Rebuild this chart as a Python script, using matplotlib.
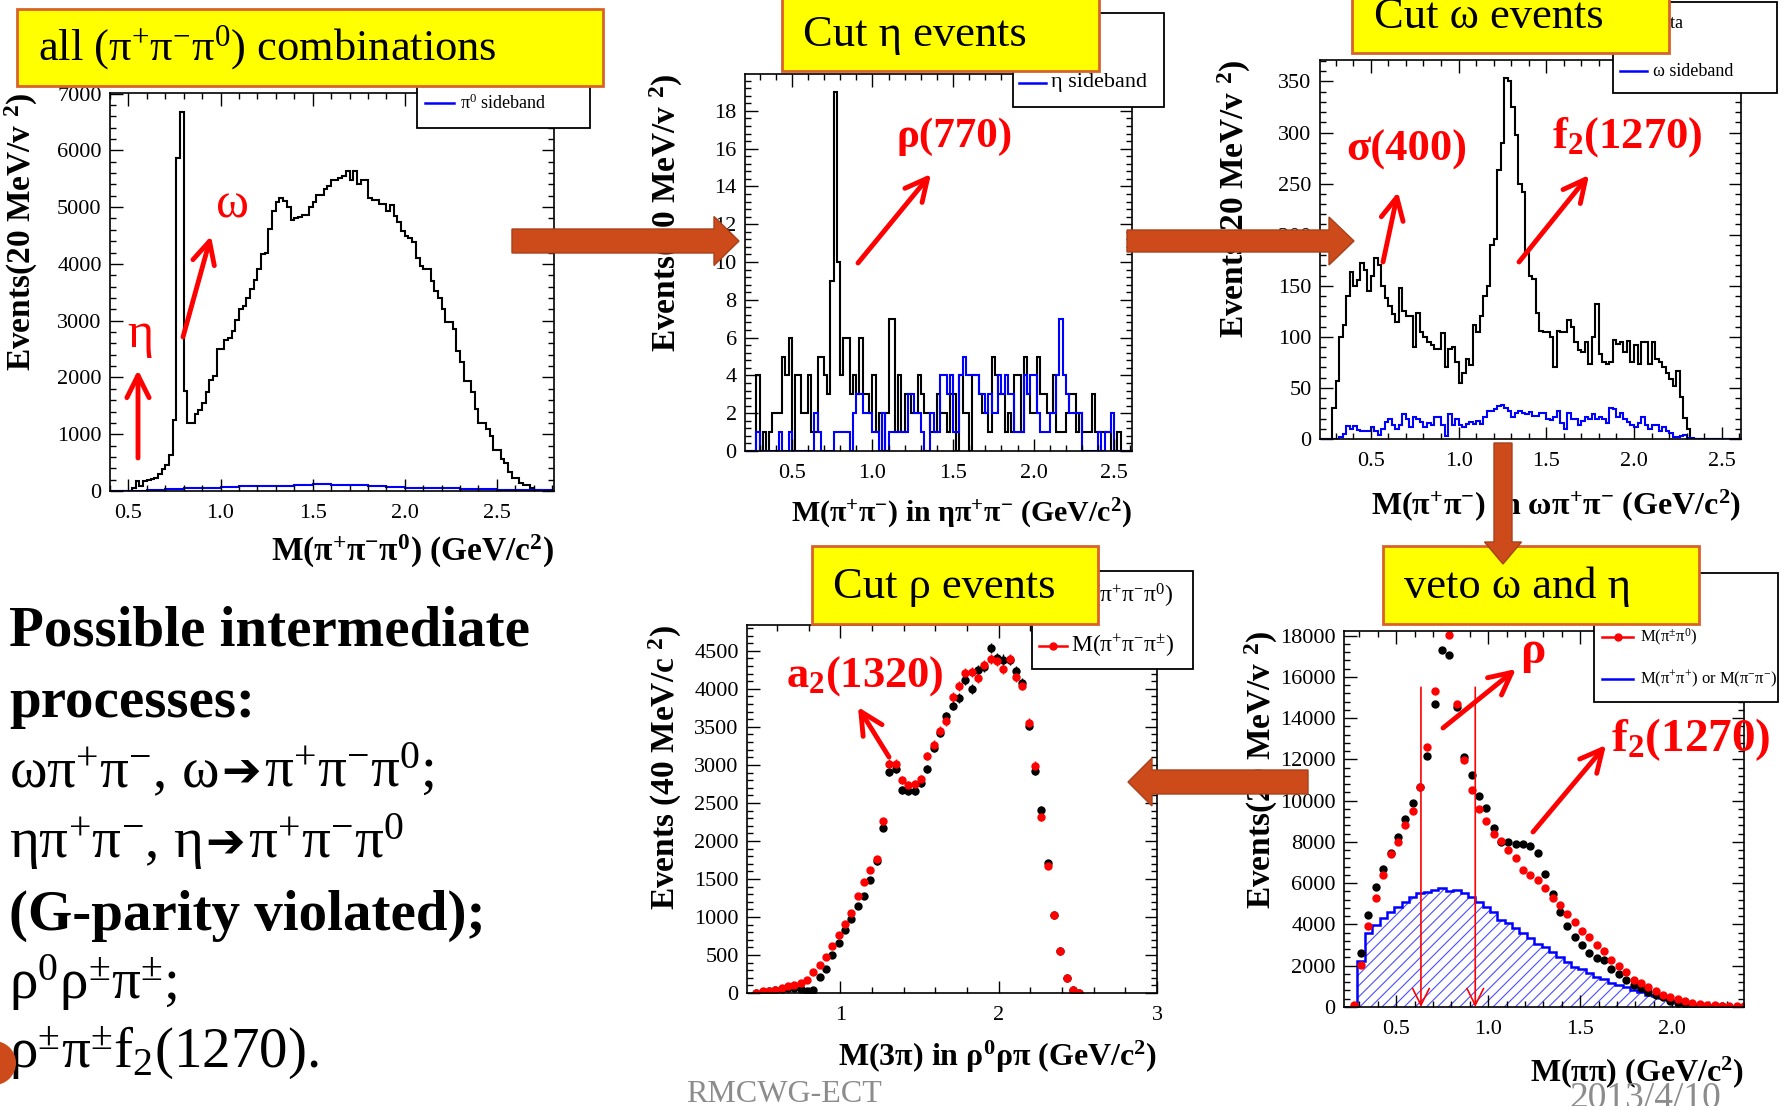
import numpy as np
import matplotlib
matplotlib.use("Agg")
import matplotlib.pyplot as plt
from matplotlib.patches import Rectangle, FancyArrow, Circle
from matplotlib.ticker import MultipleLocator, FormatStrFormatter

plt.rcParams['font.family'] = ['Liberation Serif', 'DejaVu Serif']
plt.rcParams['mathtext.fontset'] = 'custom'
plt.rcParams['mathtext.rm'] = 'Liberation Serif'
plt.rcParams['mathtext.default'] = 'regular'
plt.rcParams['hatch.linewidth'] = 0.8

W, H = 1784, 1106

# ---- M(pi+ pi- pi0), 20 MeV bins starting at 0.40 GeV
m3pi_start, m3pi_width = 0.40, 0.02
m3pi_all = [0, 0, 0, 0, 0,
            0, 60, 180, 90, 170, 200, 210, 230, 300, 390,
            460, 640, 1250, 5860, 6680, 1770, 1190, 1190, 1350, 1420,
            1550, 1740, 1960, 2030, 2500, 2500, 2660, 2700, 2820, 3020,
            3200, 3250, 3400, 3560, 3720, 3910, 4170, 4200, 4610, 4930,
            5090, 5160, 5100, 5000, 4770, 4800, 4820, 4870, 4870, 5000,
            5090, 5220, 5220, 5320, 5380, 5480, 5480, 5510, 5540, 5640,
            5480, 5640, 5410, 5480, 5480, 5160, 5120, 5120, 5060, 5060,
            4930, 5030, 4840, 4740, 4580, 4490, 4450, 4390, 4100, 3970,
            3910, 3910, 3690, 3530, 3400, 3210, 2980, 2980, 2860, 2470,
            2280, 1930, 1930, 1740, 1450, 1195, 1195, 1100, 970, 715,
            715, 555, 490, 330, 235, 235, 140, 110, 110, 45,
            13, 13, 0, 0, 0, 0, 0]
# pi0 sideband, 100 MeV bins starting at 0.40 GeV
pi0_side_width = 0.10
pi0_side = [0, 0, 10, 40, 60, 60, 65, 80, 88, 95, 100, 115, 105,
            100, 90, 75, 60, 60, 55, 40, 30, 18, 15, 15, 0]

# ---- M(pi+ pi-) recoiling against eta, 20 MeV bins from 0.20 GeV
mpp_start, mpp_width = 0.20, 0.02
eta_data = [0, 0, 0, 0, 4, 0, 1, 0, 1, 2,
            2, 2, 5, 4, 6, 0, 4, 4, 2, 2,
            4, 1, 1, 5, 5, 4, 3, 9, 19, 10,
            4, 6, 6, 3, 4, 3, 6, 3, 3, 2,
            4, 1, 2, 0, 2, 7, 7, 1, 4, 1,
            3, 3, 2, 2, 4, 3, 2, 2, 1, 1,
            3, 2, 2, 1, 3, 3, 0, 4, 2, 2,
            0, 4, 4, 3, 2, 2, 1, 5, 4, 3,
            3, 1, 2, 1, 4, 4, 1, 5, 3, 2,
            2, 5, 3, 3, 2, 2, 4, 1, 1, 1,
            2, 3, 3, 1, 2, 1, 1, 1, 3, 1,
            1, 1, 1, 1, 0, 0, 1, 0, 0, 0]
eta_side = [0, 0, 0, 0, 1, 0, 0, 0, 0, 0,
            0, 1, 0, 0, 1, 0, 0, 0, 0, 0,
            0, 0, 2, 1, 0, 0, 0, 0, 1, 1,
            1, 1, 1, 0, 2, 3, 3, 2, 2, 2,
            1, 1, 0, 2, 0, 1, 1, 1, 1, 1,
            1, 3, 3, 2, 2, 1, 0, 0, 2, 1,
            1, 4, 4, 3, 4, 1, 1, 4, 5, 4,
            4, 4, 4, 3, 3, 2, 3, 2, 2, 4,
            3, 4, 3, 3, 1, 1, 1, 4, 3, 4,
            4, 2, 1, 1, 1, 2, 2, 4, 7, 4,
            3, 2, 2, 2, 2, 0, 0, 0, 0, 0,
            1, 0, 1, 1, 2, 0, 0, 0, 0, 0]

# ---- M(pi+ pi-) recoiling against omega, same binning
omega_data = [0, 0, 0, 0,
              30, 57, 100, 112, 140, 163, 150, 156, 172, 165,
              145, 160, 177, 170, 150, 138, 130, 122, 115, 148,
              125, 120, 120, 90, 123, 105, 100, 95, 92, 88,
              88, 104, 70, 88, 90, 75, 55, 65, 78, 72,
              112, 105, 120, 140, 150, 190, 196, 263, 290, 353,
              350, 325, 298, 250, 242, 182, 160, 157, 123, 106,
              105, 105, 100, 70, 106, 105, 105, 116, 110, 95,
              87, 85, 95, 73, 100, 132, 83, 75, 73, 75,
              97, 93, 95, 85, 96, 75, 92, 73, 95, 95,
              73, 95, 78, 75, 70, 65, 59, 52, 67, 41,
              21, 10,
              0, 0, 0, 0, 0, 0, 0, 0, 0, 0, 0, 0, 0, 0]
omega_side = [0, 0, 0, 0,
              0, 0, 2, 5, 13, 10, 13, 9, 8, 8,
              8, 12, 8, 4, 10, 17, 20, 14, 10, 14,
              24, 20, 12, 22, 20, 17, 12, 16, 14, 22,
              22, 14, 3, 24, 14, 20, 14, 12, 15, 17,
              15, 18, 15, 22, 27, 27, 29, 32, 33, 30,
              27, 22, 25, 27, 25, 24, 26, 23, 23, 25,
              25, 20, 19, 22, 27, 16, 10, 25, 20, 20,
              14, 18, 22, 20, 24, 20, 22, 20, 16, 30,
              29, 22, 25, 20, 17, 14, 12, 16, 22, 14,
              10, 14, 14, 8, 12, 8, 6, 2, 2, 3,
              4, 1, 1,
              0, 0, 0, 0, 0, 0, 0, 0, 0, 0, 0, 0, 0]

# ---- M(3pi) in rho0 rho pi, 40 MeV bins, centres from 0.47 GeV
m3_first, m3_step = 0.47, 0.04
m3_neutral = [0, 9, 22, 35, 53, 66, 66, 53, 31, 35,
              210, 316, 504, 658, 833, 974, 1140, 1281, 1491, 1730,
              2171, 2904, 2947, 2675, 2654, 2654, 2763, 2947, 3224, 3421,
              3640, 3781, 3882, 4120, 4000, 4254, 4290, 4540, 4408, 4386,
              4380, 4233, 4079, 3518, 2917, 2412, 1711, 1031, 557, 197,
              44, 0]
m3_charged = [0, 22, 31, 44, 66, 88, 110, 132, 175, 272,
              373, 474, 614, 768, 912, 1053, 1272, 1456, 1623, 1763,
              2259, 3018, 3018, 2807, 2741, 2754, 2816, 3114, 3268, 3452,
              3575, 3895, 4035, 4211, 4219, 4145, 4320, 4395, 4364, 4263,
              4395, 4158, 4044, 3553, 2991, 2316, 1667, 1031, 557, 197,
              35, 0]

# ---- M(pi pi) after the omega/eta veto, 40 MeV bins, centres from 0.27 GeV
mpipi_first, mpipi_step = 0.27, 0.04
pipi_neutral = [0, 2625, 4438, 5820, 6683, 7461, 8238, 9136, 9878, 10656,
                12158, 14714, 17305, 17046, 14541, 12124, 11226, 10224, 9671, 8670,
                7979, 7979, 7892, 7892, 7806, 7461, 6459, 5475, 4611, 3920,
                3402, 3005, 2625, 2366, 2280, 1848, 1623, 1330, 1071, 898,
                725, 587, 466, 294, 207, 155, 121, 69, 52, 35,
                30, 20, 20, 20]
pipi_charged = [120, 2020, 3920, 5302, 6390, 7426, 7979, 8842, 9499, 10690,
                12607, 15318, 18900, 18045, 14709, 11967, 10535, 9620, 9015, 8410,
                8065, 7633, 7201, 6632, 6424, 6165, 5768, 5302, 4957, 4525,
                4145, 3661, 3402, 3005, 2711, 2280, 1969, 1675, 1330, 1157,
                984, 760, 587, 501, 380, 294, 207, 155, 121, 86,
                69, 52, 35, 35]
pipi_same_sign = [0, 0, 2210, 3590, 3980, 4300, 4630, 4870, 5110, 5350, 5510,
                  5590, 5670, 5750, 5600, 5670, 5510, 5350, 5110, 4870, 4630,
                  4220, 4060, 3820, 3580, 3340, 3050, 2900, 2650, 2400, 2200,
                  1950, 1850, 1650, 1450, 1350, 1160, 1080, 950, 840, 720,
                  600, 520, 420, 360, 270, 190, 150, 120, 110, 60,
                  30, 10, 0, 0]
rho_cuts = [0.635, 0.93]
rho_cut_top = 15500


def edges(start, width, n):
    return np.round(start + width * np.arange(n + 1), 4)


def centres(first, step, n):
    return np.round(first + step * np.arange(n), 4)


fig = plt.figure(figsize=(W / 100, H / 100), dpi=100)


def panel(left, top, right, bottom):
    ax = fig.add_axes([left / W, 1 - bottom / H, (right - left) / W, (bottom - top) / H])
    ax.tick_params(which='both', direction='in', top=True, right=True, labelsize=16, width=1)
    ax.tick_params(which='major', length=9)
    ax.tick_params(which='minor', length=4.5)
    ax.tick_params(axis='x', pad=9)
    ax.tick_params(axis='y', pad=6)
    for s in ax.spines.values():
        s.set_linewidth(1.2)
    return ax


def labels(ax, xl, yl, xfrac, yfrac, xsize=24):
    ax.set_xlabel(xl, fontsize=xsize, fontweight='bold', loc='right')
    ax.set_ylabel(yl, fontsize=24, fontweight='bold', loc='top')
    ax.xaxis.set_label_coords(1.0, yfrac)
    ax.yaxis.set_label_coords(xfrac, 1.0)


def axis_ticks(ax, xmaj, xmin, ymaj, ymin, xfmt):
    ax.xaxis.set_major_locator(MultipleLocator(xmaj))
    ax.xaxis.set_minor_locator(MultipleLocator(xmin))
    ax.yaxis.set_major_locator(MultipleLocator(ymaj))
    ax.yaxis.set_minor_locator(MultipleLocator(ymin))
    ax.xaxis.set_major_formatter(FormatStrFormatter(xfmt))
    ax.yaxis.set_major_formatter(FormatStrFormatter('%d'))


# panel 1: all combinations
ax1 = panel(110, 93, 554, 491)
ax1.stairs(m3pi_all, edges(m3pi_start, m3pi_width, len(m3pi_all)), color='k', lw=1.5)
ax1.stairs(pi0_side, edges(m3pi_start, pi0_side_width, len(pi0_side)), color='blue', lw=1.5)
ax1.set_xlim(0.40, 2.81)
ax1.set_ylim(0, 7010)
axis_ticks(ax1, 0.5, 0.1, 1000, 200, '%.1f')
labels(ax1, r'M(π$^{+}$π$^{-}$π$^{0}$) (GeV/c$^{2}$)', r'Events(20 MeV/v $^{2}$)', -0.157, -0.105)

# panel 2: eta selected
ax2 = panel(745, 74, 1132, 451)
ax2.stairs(eta_data, edges(mpp_start, mpp_width, len(eta_data)), color='k', lw=1.5)
ax2.stairs(eta_side, edges(mpp_start, mpp_width, len(eta_side)), color='blue', lw=1.5)
ax2.set_xlim(0.21, 2.61)
ax2.set_ylim(0, 19.95)
axis_ticks(ax2, 0.5, 0.1, 2, 0.4, '%.1f')
labels(ax2, r'M(π$^{+}$π$^{-}$) in ηπ$^{+}$π$^{-}$ (GeV/c$^{2}$)', r'Events(20 MeV/v $^{2}$)',
       -0.155, -0.121, xsize=21.5)

# panel 3: omega selected
ax3 = panel(1320, 60, 1741, 439)
ax3.stairs(omega_data, edges(mpp_start, mpp_width, len(omega_data)), color='k', lw=1.5)
ax3.stairs(omega_side, edges(mpp_start, mpp_width, len(omega_side)), color='blue', lw=1.5)
ax3.set_xlim(0.21, 2.61)
ax3.set_ylim(0, 371)
axis_ticks(ax3, 0.5, 0.1, 50, 10, '%.1f')
labels(ax3, r'M(π$^{+}$π$^{-}$) in ωπ$^{+}$π$^{-}$ (GeV/c$^{2}$)', r'Events(20 MeV/v $^{2}$)',
       -0.159, -0.127, xsize=23)

# panel 4: rho selected, 3pi mass
ax4 = panel(747, 625, 1157, 993)
x4 = centres(m3_first, m3_step, len(m3_neutral))
ax4.errorbar(x4, m3_neutral, yerr=np.sqrt(m3_neutral), fmt='o', color='k', ms=5,
             elinewidth=1, capsize=0)
ax4.errorbar(x4, m3_charged, yerr=np.sqrt(m3_charged), fmt='o', color='red', ms=5,
             elinewidth=1, capsize=0)
ax4.set_xlim(0.41, 3.0)
ax4.set_ylim(0, 4840)
axis_ticks(ax4, 1, 0.2, 500, 100, '%d')
labels(ax4, r'M(3π) in ρ$^{0}$ρπ (GeV/c$^{2}$)', r'Events (40 MeV/c $^{2}$)', -0.154, -0.125,
       xsize=23)

# panel 5: pi pi mass after vetoes
ax5 = panel(1344, 631, 1744, 1007)
e5 = edges(mpipi_first - 0.06, mpipi_step, len(pipi_same_sign))
ax5.stairs(pipi_same_sign, e5, fill=True, facecolor='none', edgecolor='#4d4dff', lw=0, hatch='///')
ax5.stairs(pipi_same_sign, e5, color='blue', lw=1.8)
x5 = centres(mpipi_first, mpipi_step, len(pipi_neutral))
ax5.errorbar(x5, pipi_neutral, yerr=np.sqrt(pipi_neutral), fmt='o', color='k', ms=5,
             elinewidth=1, capsize=0)
ax5.errorbar(x5, pipi_charged, yerr=np.sqrt(pipi_charged), fmt='o', color='red', ms=5,
             elinewidth=1, capsize=0)
for c in rho_cuts:
    ax5.annotate('', xy=(c, 0), xytext=(c, rho_cut_top),
                 arrowprops=dict(arrowstyle='->', color='red', lw=1.2, mutation_scale=30,
                                 shrinkA=0, shrinkB=0))
ax5.set_xlim(0.217, 2.39)
ax5.set_ylim(0, 18230)
axis_ticks(ax5, 0.5, 0.1, 2000, 400, '%.1f')
labels(ax5, r'M(ππ) (GeV/c$^{2}$)', r'Events(20 MeV/v $^{2}$)', -0.16, -0.125, xsize=23)

# ---- overlay in figure pixels for boxes, arrows and slide text
ov = fig.add_axes([0, 0, 1, 1])
ov.set_xlim(0, W)
ov.set_ylim(H, 0)
ov.axis('off')
ov.set_zorder(10)


def legend_box(x0, y0, x1, y1, entries, lx0, lx1, tx, size):
    ov.add_patch(Rectangle((x0, y0), x1 - x0, y1 - y0, facecolor='white', edgecolor='k',
                           lw=1.3, zorder=2))
    for y, color, marker, text in entries:
        ov.plot([lx0, lx1], [y, y], color=color, lw=1.8, zorder=2.1)
        if marker:
            ov.plot([(lx0 + lx1) / 2], [y], marker='o', ms=5, color=color, zorder=2.2)
        ov.text(tx, y, text, fontsize=size, va='center', zorder=2.2)


legend_box(417, 40, 590, 128, [(103, 'blue', False, r'π$^{0}$ sideband')], 425, 454, 460, 13)
legend_box(1013, 13, 1164, 107, [(83, 'blue', False, 'η sideband')], 1019, 1046, 1051, 16)
legend_box(1613, 2, 1777, 93, [(23, 'k', False, 'data'),
                               (71, 'blue', False, 'ω sideband')], 1620, 1647, 1653, 13)
legend_box(1032, 571, 1193, 669, [(596, 'k', True, r'M(π$^{+}$π$^{-}$π$^{0}$)'),
                                  (646, 'red', True, r'M(π$^{+}$π$^{-}$π$^{±}$)')], 1039, 1067, 1071, 17)
legend_box(1594, 573, 1778, 702, [(637, 'red', True, r'M(π$^{±}$π$^{0}$)'),
                                  (679, 'blue', False, r'M(π$^{+}$π$^{+}$) or M(π$^{-}$π$^{-}$)')],
           1602, 1633, 1640, 12)


def title_box(x0, y0, x1, y1, text, tx, ty):
    ov.add_patch(Rectangle((x0, y0), x1 - x0, y1 - y0, facecolor='#FFFF00', edgecolor='#D9622B',
                           lw=2, zorder=3))
    ov.text(tx, ty, text, fontsize=32, va='baseline', zorder=3.1)


title_box(17, 9, 603, 86, r'all (π$^{+}$π$^{-}$π$^{0}$) combinations', 38, 60)
title_box(782, -5, 1099, 71, 'Cut η events', 803, 46)
title_box(1352, -30, 1669, 53, 'Cut ω events', 1374, 28)
title_box(812, 546, 1098, 624, 'Cut ρ events', 833, 598)
title_box(1383, 546, 1699, 624, 'veto ω and η', 1404, 598)


def block_arrow(x, y, dx, dy, width, head_width, head_length):
    ov.add_patch(FancyArrow(x, y, dx, dy, width=width, head_width=head_width,
                            head_length=head_length, length_includes_head=True,
                            facecolor='#CD4A1A', edgecolor='#A8401A', lw=1, zorder=4))


block_arrow(512, 241, 227, 0, 24, 49, 25)
block_arrow(1127, 241, 227, 0, 22, 48, 25)
block_arrow(1503, 443, 0, 121, 18, 37, 22)
block_arrow(1308, 782, -180, 0, 24, 48, 24)


def callout(text, tx, ty, tail, tip, size, weight='bold'):
    ov.text(tx, ty, text, color='red', fontsize=size, fontweight=weight,
            ha='center', va='center', zorder=5)
    ov.annotate('', xy=tip, xytext=tail, zorder=5,
                arrowprops=dict(arrowstyle='->', color='red', lw=3.5, mutation_scale=40,
                                shrinkA=0, shrinkB=0))


callout('η', 140, 335, (138, 458), (138, 370), 36, 'normal')
callout('ω', 233, 205, (183, 337), (211, 236), 36, 'normal')
callout('ρ(770)', 955, 137, (858, 263), (931, 174), 31)
callout('σ(400)', 1407, 150, (1383, 262), (1398, 192), 32)
callout(r'f$_{2}$(1270)', 1627, 137, (1519, 262), (1589, 175), 32)
callout(r'a$_{2}$(1320)', 865, 676, (889, 757), (858, 707), 32)
callout('ρ', 1533, 652, (1443, 728), (1516, 669), 34)
callout(r'f$_{2}$(1270)', 1691, 740, (1533, 832), (1606, 745), 34)

# slide text on the left; each line is a list of runs drawn one after another
SERIF = ['Liberation Serif', 'DejaVu Serif']
ARROW = ['DejaVu Sans']
text_lines = [
    (646, [('Possible intermediate', 'bold', SERIF)]),
    (717, [('processes:', 'bold', SERIF)]),
    (787, [(r'ωπ$^{+}$π$^{-}$, ω', 'normal', SERIF), ('➔', 'bold', ARROW),
           (r'π$^{+}$π$^{-}$π$^{0}$;', 'normal', SERIF)]),
    (858, [(r'ηπ$^{+}$π$^{-}$, η', 'normal', SERIF), ('➔', 'bold', ARROW),
           (r'π$^{+}$π$^{-}$π$^{0}$', 'normal', SERIF)]),
    (930, [('(G-parity violated);', 'bold', SERIF)]),
    (999, [(r'ρ$^{0}$ρ$^{±}$π$^{±}$;', 'normal', SERIF)]),
    (1067, [(r'ρ$^{±}$π$^{±}$f$_{2}$(1270).', 'normal', SERIF)]),
]
renderer = fig.canvas.get_renderer()
for base, runs in text_lines:
    x = 9
    for chunk, weight, family in runs:
        size = 34 if family is ARROW else 41
        t = ov.text(x, base, chunk, fontsize=size, fontweight=weight, family=family,
                    va='baseline', zorder=5)
        x += t.get_window_extent(renderer).width + 3

ov.add_patch(Circle((-6, 1063), 22, facecolor='#CD4A1A', edgecolor='none', zorder=5))
ov.text(686, 1102, 'RMCWG-ECT', color='#8c8c8c', fontsize=23, va='baseline', zorder=5)
ov.text(1569, 1108, '2013/4/10', color='#8c8c8c', fontsize=27, va='baseline', zorder=5)

fig.savefig('out.png', dpi=100)
